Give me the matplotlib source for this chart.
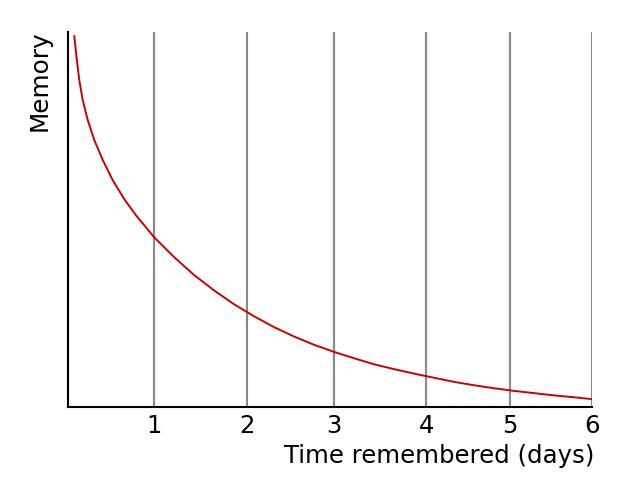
import numpy as np
import matplotlib
matplotlib.use("Agg")
import matplotlib.pyplot as plt

# Forgetting curve, values (days, share remembered)
days = [0.072, 0.097, 0.129, 0.168, 0.226, 0.301, 0.397, 0.512, 0.645, 0.779,
        0.985, 1.214, 1.443, 1.672, 1.901, 2.130, 2.359, 2.588, 2.817, 3.046,
        3.275, 3.504, 3.733, 3.962, 4.191, 4.420, 4.649, 4.878, 5.107, 5.336,
        5.565, 5.794, 6.000]
memory = [0.989, 0.934, 0.872, 0.819, 0.765, 0.712, 0.659, 0.605, 0.554, 0.511,
          0.453, 0.400, 0.352, 0.311, 0.274, 0.242, 0.213, 0.188, 0.166, 0.147,
          0.130, 0.114, 0.101, 0.089, 0.078, 0.067, 0.058, 0.050, 0.043, 0.037,
          0.031, 0.026, 0.021]

# where the grid lines sit in the reference, and their labels
grid_days = [0.98, 2.05, 3.05, 4.10, 5.06, 6.0]
grid_labels = ["1", "2", "3", "4", "5", "6"]

fig = plt.figure(figsize=(6.29, 5.0), dpi=100)
ax = fig.add_axes([68 / 629, 93 / 500, 524 / 629, 375 / 500])

ax.vlines(grid_days, 0, 1, color="#888888", lw=1.5, zorder=1)
ax.plot(days, memory, color="#cc0000", lw=1.4, zorder=3,
        solid_joinstyle="round")

ax.set_xlim(0, 6)
ax.set_ylim(0, 1)
ax.set_xticks(grid_days, grid_labels)
ax.set_yticks([])
ax.tick_params(axis="x", length=0, pad=5, labelsize=17.5)

for side in ["top", "right"]:
    ax.spines[side].set_visible(False)
for side in ["left", "bottom"]:
    ax.spines[side].set_linewidth(1.5)
    ax.spines[side].set_color("black")

fig.text(40 / 629, 1 - 30 / 500, "Memory", rotation=90,
         ha="center", va="top", fontsize=17.8)
fig.text(594 / 629, 1 - 456 / 500, "Time remembered (days)",
         ha="right", va="center", fontsize=17.6)

fig.savefig("out.png", dpi=100, facecolor="white")
